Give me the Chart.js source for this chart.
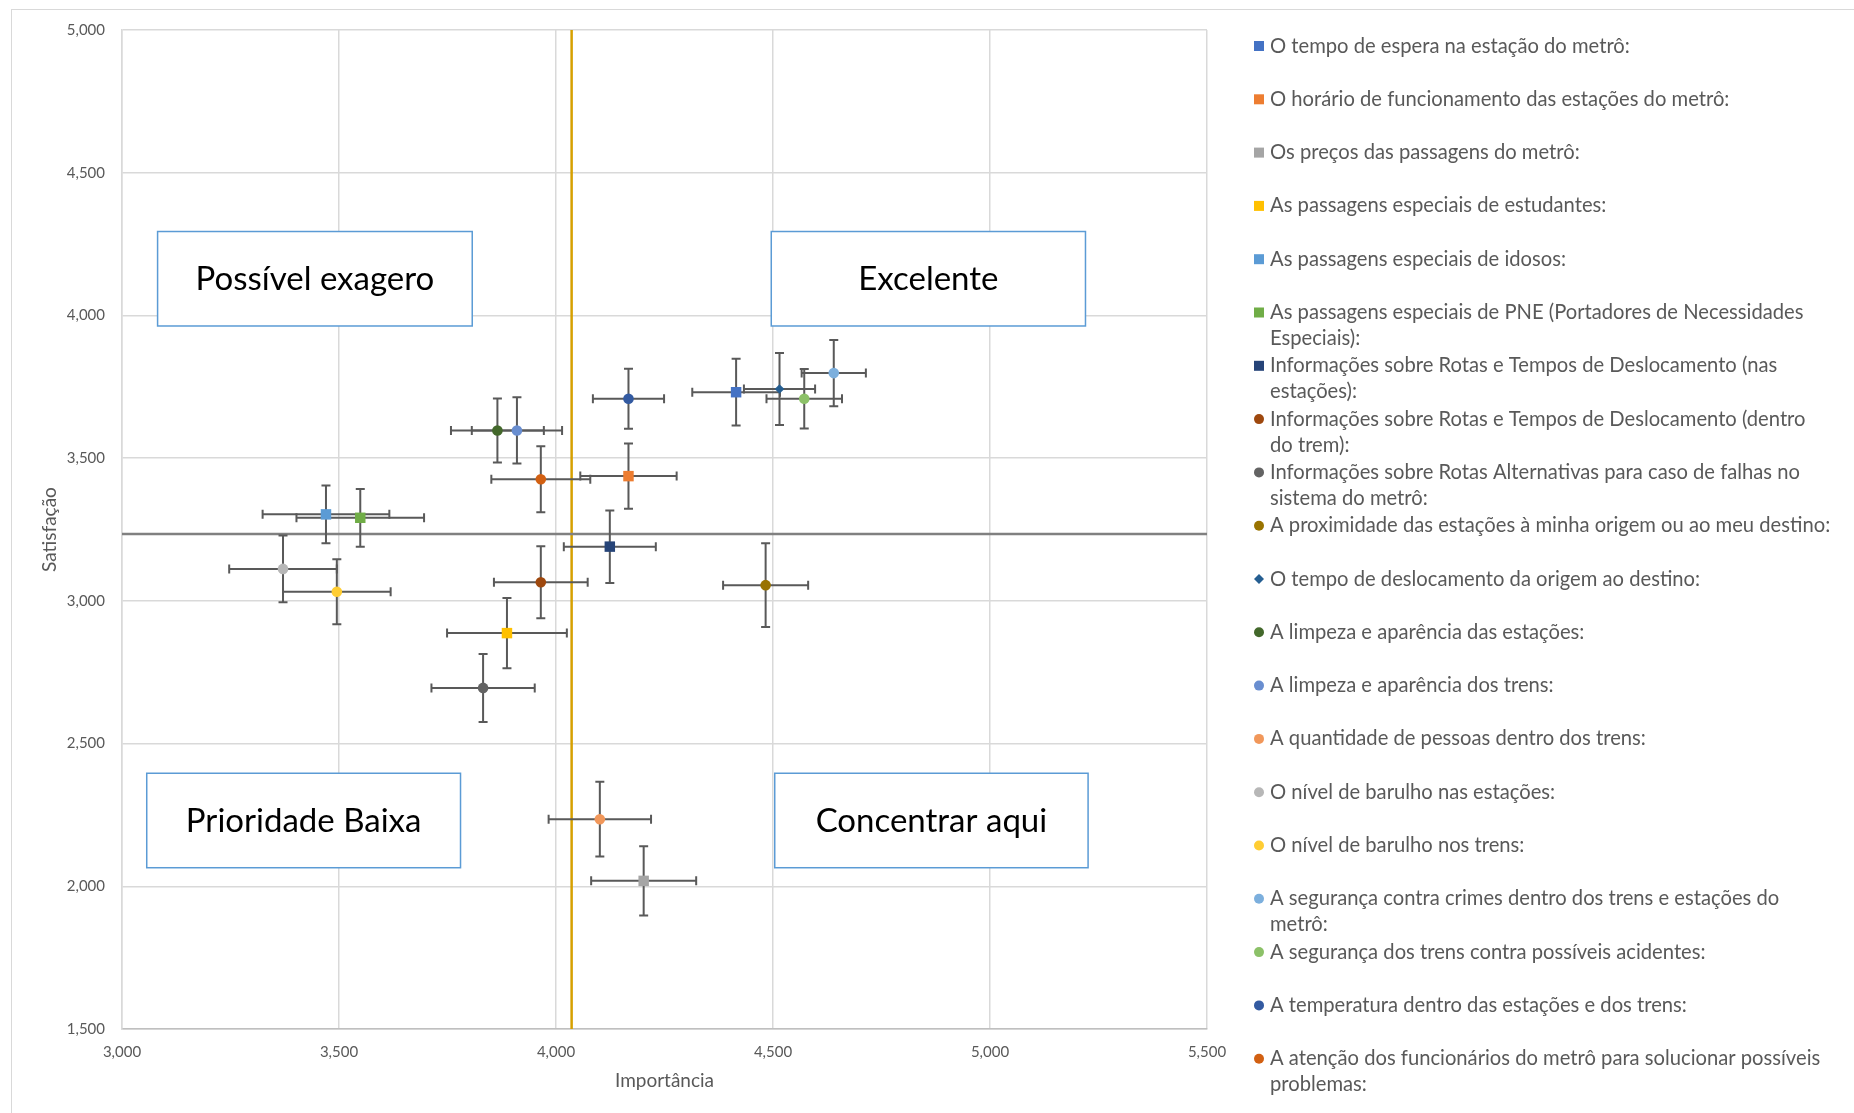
<!DOCTYPE html>
<html lang="pt-BR">
<head>
<meta charset="utf-8">
<title>Importância × Satisfação – Metrô</title>
<script src="https://cdn.jsdelivr.net/npm/chart.js@4.4.1/dist/chart.umd.min.js"></script>
<style>
  html, body { margin: 0; padding: 0; background: #fff; overflow: hidden; }
  #frame { position: absolute; left: 11px; top: 9px; width: 1900px; height: 1200px;
           border: 1.5px solid #D9D9D9; box-sizing: border-box; }
  #wrap { position: absolute; left: 0; top: 0; width: 1854px; height: 1113px; }
</style>
</head>
<body>
<div id="frame"></div>
<div id="wrap"><canvas id="c"></canvas></div>
<script>
// Survey items (legend text, line breaks as they appear in the legend)
const seriesNames = [
  'O tempo de espera na estação do metrô:',
  'O horário de funcionamento das estações do metrô:',
  'Os preços das passagens do metrô:',
  'As passagens especiais de estudantes:',
  'As passagens especiais de idosos:',
  'As passagens especiais de PNE (Portadores de Necessidades\nEspeciais):',
  'Informações sobre Rotas e Tempos de Deslocamento (nas\nestações):',
  'Informações sobre Rotas e Tempos de Deslocamento (dentro\ndo trem):',
  'Informações sobre Rotas Alternativas para caso de falhas no\nsistema do metrô:',
  'A proximidade das estações à minha origem ou ao meu destino:',
  'O tempo de deslocamento da origem ao destino:',
  'A limpeza e aparência das estações:',
  'A limpeza e aparência dos trens:',
  'A quantidade de pessoas dentro dos trens:',
  'O nível de barulho nas estações:',
  'O nível de barulho nos trens:',
  'A segurança contra crimes dentro dos trens e estações do\nmetrô:',
  'A segurança dos trens contra possíveis acidentes:',
  'A temperatura dentro das estações e dos trens:',
  'A atenção dos funcionários do metrô para solucionar possíveis\nproblemas:'
];

// Mean importance (x) and satisfaction (y) per item
const importance   = [4415, 4167, 4202, 3887, 3470, 3549, 4124, 3965, 3832, 4483,
                      4515, 3865, 3910, 4101, 3371, 3495, 4640, 4572, 4167, 3965];
const satisfaction = [3731, 3437, 2019, 2887, 3303, 3291, 3190, 3065, 2695, 3055,
                      3742, 3597, 3597, 2235, 3112, 3032, 3798, 3708, 3708, 3426];

// Error margins
const importanceErr   = [101, 111, 121, 138, 146, 147, 106, 108, 119, 98,
                         82, 107, 104, 118, 124, 124, 74, 87, 82, 114];
const satisfactionErr = [117, 114, 121, 123, 101, 101, 127, 126, 119, 147,
                         126, 112, 116, 131, 117, 114, 116, 104, 105, 116];

// Overall averages used as quadrant dividers
const importanceRef = 4036;
const satisfactionRef = 3234;

// Axis ticks
const xTickValues = [3000, 3500, 4000, 4500, 5000, 5500];
const yTickValues = [1500, 2000, 2500, 3000, 3500, 4000, 4500, 5000];

// Quadrant captions
const quadrantLabels = ['Possível exagero', 'Excelente', 'Prioridade Baixa', 'Concentrar aqui'];

// ---- styling ----
const seriesColors = ['#4472C4', '#ED7D31', '#A5A5A5', '#FFC000', '#5B9BD5', '#70AD47', '#264478',
                      '#9E480E', '#636363', '#997300', '#255E91', '#43682B', '#698ED0', '#F1975A',
                      '#B7B7B7', '#FFCD33', '#7CAFDD', '#8CC168', '#335AA1', '#D26012'];
const seriesMarkers = ['rect', 'rect', 'rect', 'rect', 'rect', 'rect', 'rect',
                       'circle', 'circle', 'circle', 'rectRot', 'circle', 'circle', 'circle',
                       'circle', 'circle', 'circle', 'circle', 'circle', 'circle'];
const markerRadius = { rect: 7.4, circle: 5.3, rectRot: 4.8 };

// caption boxes, in axis units: [xFrom, xTo, yTop, yBottom]
const quadrantBoxes = [
  [3082, 3807, 4294, 3963],
  [4496, 5220, 4294, 3963],
  [3057, 3780, 2396, 2065],
  [4504, 5226, 2396, 2065]
];

const FONT = 'Lato, "Open Sans", sans-serif';
const TEXT_GRAY = '#595959';

// Quadrant caption boxes, the two average lines and the error bars
const quadrantPlugin = {
  id: 'quadrants',
  beforeDatasetsDraw(chart) {
    const { ctx, chartArea: a, scales: { x, y } } = chart;
    ctx.save();
    // caption boxes
    quadrantBoxes.forEach((b, i) => {
      const x1 = x.getPixelForValue(b[0]), x2 = x.getPixelForValue(b[1]);
      const y1 = y.getPixelForValue(b[2]), y2 = y.getPixelForValue(b[3]);
      ctx.fillStyle = '#fff';
      ctx.fillRect(x1, y1, x2 - x1, y2 - y1);
      ctx.strokeStyle = '#5B9BD5';
      ctx.lineWidth = 1.5;
      ctx.strokeRect(x1, y1, x2 - x1, y2 - y1);
      ctx.fillStyle = '#000';
      ctx.font = '33px ' + FONT;
      ctx.textAlign = 'center';
      ctx.textBaseline = 'middle';
      ctx.fillText(quadrantLabels[i], (x1 + x2) / 2, (y1 + y2) / 2 + 1);
    });
    // average lines
    const vx = x.getPixelForValue(importanceRef);
    ctx.strokeStyle = '#D6A000';
    ctx.lineWidth = 2.5;
    ctx.beginPath(); ctx.moveTo(vx, a.top); ctx.lineTo(vx, a.bottom); ctx.stroke();
    const hy = y.getPixelForValue(satisfactionRef);
    ctx.strokeStyle = '#808080';
    ctx.beginPath(); ctx.moveTo(a.left, hy); ctx.lineTo(a.right, hy); ctx.stroke();

    // error bars (behind markers)
    ctx.strokeStyle = '#595959';
    ctx.lineWidth = 2;
    const cap = 4.5;
    chart.data.datasets.forEach((ds, i) => {
      const p = ds.data[0];
      const cx = x.getPixelForValue(p.x), cy = y.getPixelForValue(p.y);
      const xl = x.getPixelForValue(p.x - importanceErr[i]);
      const xr = x.getPixelForValue(p.x + importanceErr[i]);
      const yt = y.getPixelForValue(p.y + satisfactionErr[i]);
      const yb = y.getPixelForValue(p.y - satisfactionErr[i]);
      ctx.beginPath();
      ctx.moveTo(xl, cy); ctx.lineTo(xr, cy);
      ctx.moveTo(xl, cy - cap); ctx.lineTo(xl, cy + cap);
      ctx.moveTo(xr, cy - cap); ctx.lineTo(xr, cy + cap);
      ctx.moveTo(cx, yt); ctx.lineTo(cx, yb);
      ctx.moveTo(cx - cap, yt); ctx.lineTo(cx + cap, yt);
      ctx.moveTo(cx - cap, yb); ctx.lineTo(cx + cap, yb);
      ctx.stroke();
    });
    ctx.restore();
  }
};

// Legend column on the right
const legendPlugin = {
  id: 'sideLegend',
  afterDraw(chart) {
    const ctx = chart.ctx;
    const markX = 1259, textX = 1270, top = 46, step = 53.3, lineGap = 26;
    ctx.save();
    ctx.font = '20.2px ' + FONT;
    ctx.textBaseline = 'middle';
    ctx.textAlign = 'left';
    chart.data.datasets.forEach((ds, i) => {
      const yy = top + i * step;
      ctx.fillStyle = ds.backgroundColor;
      const st = ds.pointStyle;
      if (st === 'rect') {
        ctx.fillRect(markX - 5, yy - 5, 10, 10);
      } else if (st === 'rectRot') {
        ctx.beginPath();
        ctx.moveTo(markX - 5, yy); ctx.lineTo(markX, yy - 5);
        ctx.lineTo(markX + 5, yy); ctx.lineTo(markX, yy + 5);
        ctx.closePath(); ctx.fill();
      } else {
        ctx.beginPath(); ctx.arc(markX, yy, 5, 0, Math.PI * 2); ctx.fill();
      }
      ctx.fillStyle = TEXT_GRAY;
      ds.label.split('\n').forEach((ln, k) => ctx.fillText(ln, textX, yy + k * lineGap));
    });
    ctx.restore();
  }
};

function build() {
  const datasets = seriesNames.map((name, i) => ({
    label: name,
    data: [{ x: importance[i], y: satisfaction[i] }],
    backgroundColor: seriesColors[i],
    borderColor: seriesColors[i],
    borderWidth: 0,
    pointStyle: seriesMarkers[i],
    pointRadius: markerRadius[seriesMarkers[i]],
    pointHoverRadius: markerRadius[seriesMarkers[i]]
  }));

  new Chart(document.getElementById('c'), {
    type: 'scatter',
    data: { datasets },
    plugins: [quadrantPlugin, legendPlugin],
    options: {
      responsive: true,
      maintainAspectRatio: false,
      animation: false,
      events: [],
      layout: { padding: { left: 0, top: 30, right: 647, bottom: 0 } },
      plugins: { legend: { display: false }, tooltip: { enabled: false } },
      scales: {
        x: {
          type: 'linear', min: 3000, max: 5500,
          afterBuildTicks: s => { s.ticks = xTickValues.map(v => ({ value: v })); },
          afterFit: s => { s.height = 84; },
          ticks: { callback: v => v.toLocaleString('en-US'), color: TEXT_GRAY,
                   font: { family: FONT, size: 15 }, padding: 14, maxRotation: 0 },
          grid: { color: '#D9D9D9', lineWidth: 1.5, drawTicks: false },
          border: { color: '#BFBFBF', width: 1.5 },
          title: { display: true, text: 'Importância', color: TEXT_GRAY,
                   font: { family: FONT, size: 19 }, padding: { top: 0, bottom: 20.5 } }
        },
        y: {
          type: 'linear', min: 1500, max: 5000,
          afterBuildTicks: s => { s.ticks = yTickValues.map(v => ({ value: v })); },
          afterFit: s => { s.width = 122; },
          ticks: { callback: v => v.toLocaleString('en-US'), color: TEXT_GRAY,
                   font: { family: FONT, size: 15 }, padding: 17 },
          grid: { color: '#D9D9D9', lineWidth: 1.5, drawTicks: false },
          border: { color: '#D9D9D9', width: 1.5 },
          title: { display: true, text: 'Satisfação', color: TEXT_GRAY,
                   font: { family: FONT, size: 19 }, padding: { top: 38.5, bottom: 0 } }
        }
      }
    }
  });
}

if (document.fonts && document.fonts.load) {
  Promise.all([document.fonts.load('20px Lato'), document.fonts.load('33px Lato')])
    .then(build, build);
} else {
  build();
}
</script>
</body>
</html>
